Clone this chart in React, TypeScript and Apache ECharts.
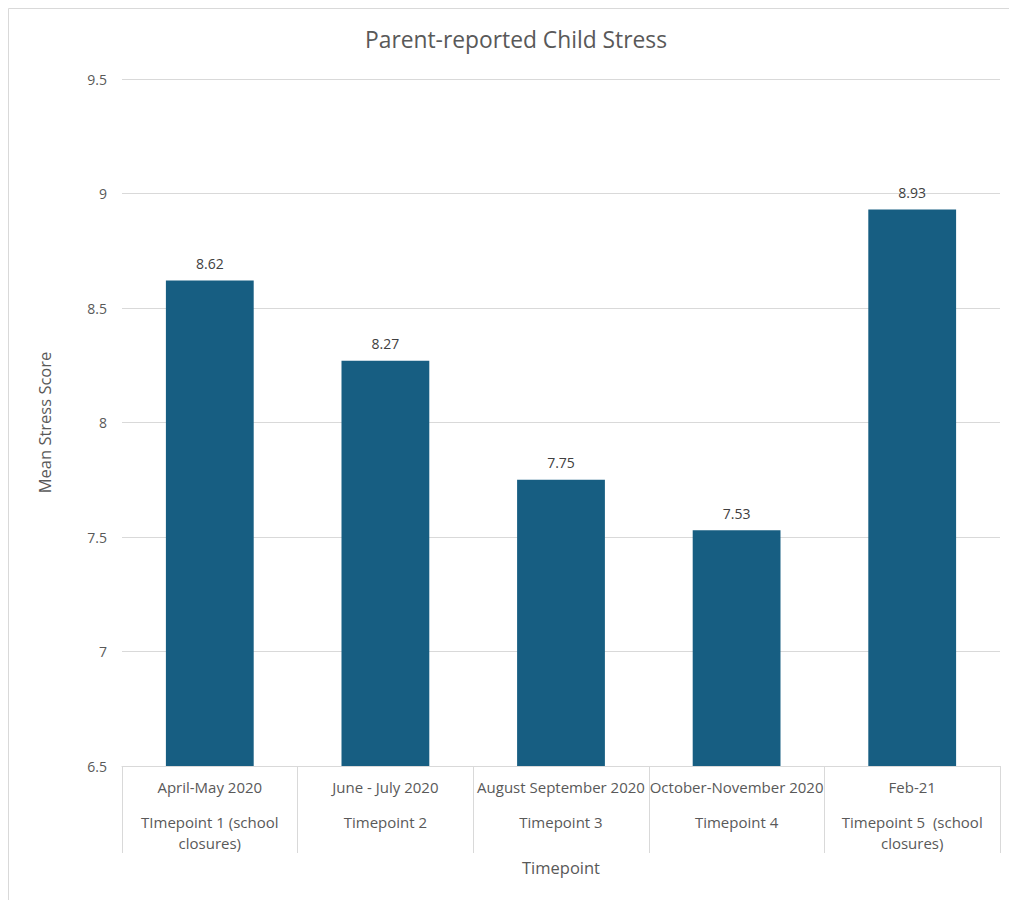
import React, { useEffect, useRef } from "react";
import * as echarts from "echarts";

const periods = ["April-May 2020", "June - July 2020", "August September 2020", "October-November 2020", "Feb-21"];
const timepoints = ["TImepoint 1 (school\nclosures)", "Timepoint 2", "Timepoint 3", "Timepoint 4", "Timepoint 5  (school\nclosures)"];
const scores = [8.62, 8.27, 7.75, 7.53, 8.93];
const yTicks = [6.5, 7, 7.5, 8, 8.5, 9, 9.5];

const FONT = "'Open Sans', Roboto, sans-serif";
const TEXT = "#595959";
const LINE = "#d9d9d9";

export default function App() {
  const ref = useRef<HTMLDivElement>(null);
  useEffect(() => {
    if (!ref.current) return;
    const chart = echarts.init(ref.current, undefined, { renderer: "svg" });
    chart.setOption({
      animation: false,
      backgroundColor: "#ffffff",
      textStyle: { fontFamily: FONT },
      title: {
        text: "Parent-reported Child Stress",
        left: 360,
        top: 23,
        textStyle: { fontFamily: FONT, fontSize: 22.8, fontWeight: "normal", color: TEXT },
      },
      graphic: [
        { type: "line", shape: { x1: 8.5, y1: 8.5, x2: 1009, y2: 8.5 }, style: { stroke: LINE, lineWidth: 1 } },
        { type: "line", shape: { x1: 8.5, y1: 8.5, x2: 8.5, y2: 900 }, style: { stroke: LINE, lineWidth: 1 } },
      ],
      grid: { left: 122, right: 9, top: 79, bottom: 134, containLabel: false },
      xAxis: [
        {
          type: "category",
          data: periods,
          position: "bottom",
          axisLine: { show: true, lineStyle: { color: LINE, width: 1 } },
          axisTick: { show: true, length: 87, lineStyle: { color: LINE, width: 1 } },
          axisLabel: { margin: 13, fontSize: 15, color: TEXT, fontFamily: FONT, interval: 0 },
          name: "Timepoint",
          nameLocation: "middle",
          nameGap: 93,
          nameTextStyle: { fontSize: 16.5, color: TEXT, fontFamily: FONT, verticalAlign: "top" },
        },
        {
          type: "category",
          data: timepoints,
          position: "bottom",
          gridIndex: 0,
          axisLine: { show: false },
          axisTick: { show: false },
          axisLabel: { margin: 45, fontSize: 15, lineHeight: 21, color: TEXT, fontFamily: FONT, interval: 0, verticalAlign: "top" },
        },
      ],
      yAxis: {
        type: "value",
        min: yTicks[0],
        max: yTicks[yTicks.length - 1],
        interval: 0.5,
        axisLine: { show: false },
        axisTick: { show: false },
        splitLine: { lineStyle: { color: LINE, width: 1 } },
        axisLabel: { margin: 15, fontSize: 14, color: TEXT, fontFamily: FONT },
        name: "Mean Stress Score",
        nameLocation: "middle",
        nameGap: 69,
        nameTextStyle: { fontSize: 16.5, color: TEXT, fontFamily: FONT },
      },
      series: [
        {
          type: "bar",
          data: scores,
          xAxisIndex: 0,
          barWidth: "50%",
          itemStyle: { color: "#175E82" },
          label: {
            show: true,
            position: "top",
            distance: 10,
            fontSize: 14,
            color: "#404040",
            fontFamily: FONT,
            formatter: (p: any) => p.value.toFixed(2),
          },
        },
      ],
    });
    return () => chart.dispose();
  }, []);
  return <div ref={ref} style={{ position: "absolute", left: 0, top: 0, width: 1009, height: 900 }} />;
}
